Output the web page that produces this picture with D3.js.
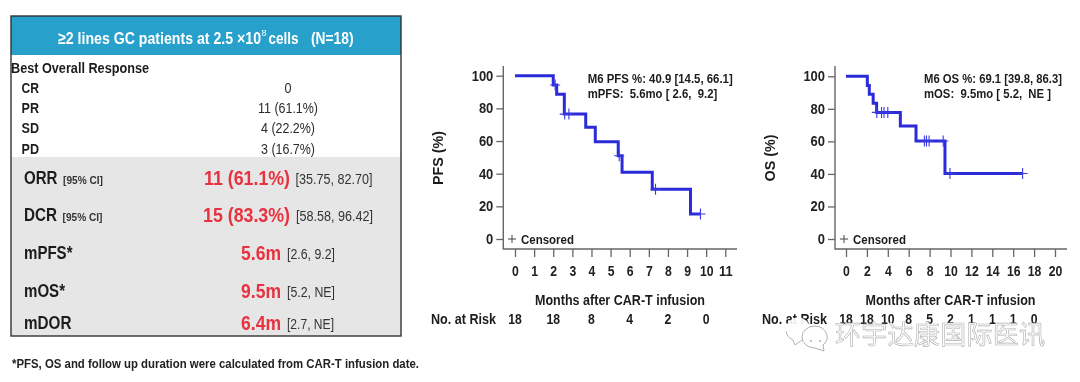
<!DOCTYPE html>
<html>
<head>
<meta charset="utf-8">
<script src="https://cdn.jsdelivr.net/npm/d3@7"></script>
<style>
  html, body { margin: 0; padding: 0; background: #fff; }
  svg { display: block; filter: blur(0.45px); }
  text { font-family: "Liberation Sans", Arial, sans-serif; white-space: pre; }
</style>
</head>
<body>
<svg id="chart"></svg>
<script>
// table contents
const responseLabels = ['CR', 'PR', 'SD', 'PD']
const responseValues = ['0', '11 (61.1%)', '4 (22.2%)', '3 (16.7%)']
const summaryLabels = ['ORR', 'DCR', 'mPFS*', 'mOS*', 'mDOR']
const summaryValues = ['11 (61.1%)', '15 (83.3%)', '5.6m', '9.5m', '6.4m']
const summaryRanges = ['[35.75, 82.70]', '[58.58, 96.42]', '[2.6, 9.2]', '[5.2, NE]', '[2.7, NE]']

// PFS curve
const pfsMonths = [0, 2.0, 2.18, 2.58, 3.7, 4.2, 5.4, 5.6, 7.18, 9.18, 9.7]
const pfsPercent = [100, 94.3, 88.6, 76.5, 68.4, 59.6, 51, 40.9, 30.4, 15.3, 15.3]
const pfsCensored = [2.1, 2.6, 2.82, 5.45, 7.35, 9.7]
const pfsTicks = [0, 1, 2, 3, 4, 5, 6, 7, 8, 9, 10, 11]
const pfsRiskMonths = [0, 2, 4, 6, 8, 10]
const pfsRisk = [18, 18, 8, 4, 2, 0]

// OS curve
const osMonths = [0, 2.04, 2.23, 2.6, 2.93, 5.2, 6.7, 9.47, 16.9]
const osPercent = [100, 94.4, 88.9, 83.4, 77.8, 69.4, 60.2, 40.3, 40.3]
const osCensored = [2.95, 3.4, 3.64, 4.0, 7.5, 7.7, 7.95, 9.3, 9.95, 16.9]
const osTicks = [0, 2, 4, 6, 8, 10, 12, 14, 16, 18, 20]
const osRiskMonths = [0, 2, 4, 6, 8, 10, 12, 14, 16, 18]
const osRisk = [18, 18, 10, 8, 5, 2, 1, 1, 1, 0]

const percentTicks = [0, 20, 40, 60, 80, 100]

const svg = d3.select('#chart').attr('width', 1080).attr('height', 382)

// text with a fixed drawn width, the source is a squeezed slide font
const label = (parent, str, x, y, size, opts = {}) => {
    const t = parent.append('text')
        .attr('x', x)
        .attr('y', y)
        .attr('dy', '0.36em')
        .attr('font-size', size)
        .attr('font-weight', opts.weight || 'bold')
        .attr('fill', opts.fill || '#1c1c1c')
        .attr('text-anchor', opts.anchor || 'start')
        .text(str)
    if (opts.width) t.attr('textLength', opts.width).attr('lengthAdjust', 'spacingAndGlyphs')
    return t
}

const drawTable = () => {
    const g = svg.append('g')
    g.append('rect').attr('x', 11).attr('y', 16).attr('width', 390).attr('height', 320).attr('fill', '#fff')
    g.append('rect').attr('x', 11).attr('y', 16).attr('width', 390).attr('height', 39).attr('fill', '#27a0cc')
    g.append('rect').attr('x', 11).attr('y', 157).attr('width', 390).attr('height', 179).attr('fill', '#e6e6e6')
    g.append('rect').attr('x', 11).attr('y', 16).attr('width', 390).attr('height', 320)
        .attr('fill', 'none').attr('stroke', '#333').attr('stroke-width', 1.4)

    label(g, '≥2 lines GC patients at 2.5 ×10', 58, 37.5, 17, { fill: '#fff', width: 203 })
    label(g, '8', 261.5, 33, 9, { fill: '#fff', weight: 'normal' })
    label(g, 'cells', 268.5, 37.5, 17, { fill: '#fff', width: 30 })
    label(g, '(N=18)', 311, 37.5, 17, { fill: '#fff', width: 42.5 })

    label(g, 'Best Overall Response', 11, 67.5, 14, { width: 138 })

    const rowY = d3.scalePoint().domain(responseLabels).range([87.5, 148.5])
    const valueW = [7, 60, 54, 54]
    responseLabels.forEach((d, i) => {
        label(g, d, 21.5, rowY(d), 14, { width: 17.5 })
        label(g, responseValues[i], 288, rowY(d), 14, { weight: 'normal', anchor: 'middle', fill: '#2b2b2b', width: valueW[i] })
    })

    const summaryY = d3.scaleOrdinal().domain(summaryLabels).range([178, 215, 253, 291, 323])
    const labelW = [33.5, 33, 48.5, 41, 47.5]
    const redX = [204, 203, 241, 241, 241]
    const redW = [86, 87, 40, 40, 40]
    const rangeX = [295.5, 296, 287, 287, 287]
    const rangeW = [77, 77, 48, 48, 47]
    summaryLabels.forEach((d, i) => {
        label(g, d, 24, summaryY(d), 18, { width: labelW[i] })
        label(g, summaryValues[i], redX[i], summaryY(d), 20, { fill: '#e8323f', width: redW[i] })
        label(g, summaryRanges[i], rangeX[i], summaryY(d) + 1, 14, { weight: 'normal', fill: '#333', width: rangeW[i] })
    })
    label(g, '[95% CI]', 63, 180, 10, { width: 40, fill: '#333' })
    label(g, '[95% CI]', 62.5, 217, 10, { width: 40, fill: '#333' })

    label(g, '*PFS, OS and follow up duration were calculated from CAR-T infusion date.', 12, 363, 12.5, { width: 407, fill: '#222' })
}

const drawKm = (cfg, months, percent, censored, ticks, riskMonths, risk) => {
    const x = d3.scaleLinear().domain([0, cfg.maxTick]).range([cfg.x0, cfg.x1])
    const y = d3.scaleLinear().domain([0, 100]).range([239, cfg.yTop])
    const axisColor = '#666'
    const g = svg.append('g')

    const xAxis = d3.axisBottom(x).tickValues(ticks).tickFormat(d3.format('d')).tickSize(8).tickPadding(9)
    const yAxis = d3.axisLeft(y).tickValues(percentTicks).tickSize(7).tickPadding(3)
    const xAxisG = g.append('g').attr('transform', 'translate(0, 249)').call(xAxis)
    const yAxisG = g.append('g').attr('transform', `translate(${cfg.axisX}, 0)`).call(yAxis)
    xAxisG.select('.domain').remove()
    yAxisG.select('.domain').remove()
    xAxisG.selectAll('line').attr('stroke', axisColor).attr('stroke-width', 1.3)
    yAxisG.selectAll('line').attr('stroke', axisColor).attr('stroke-width', 1.3)
    xAxisG.selectAll('text').attr('font-size', 14).attr('font-weight', 'bold').attr('fill', '#222')
        .attr('font-family', '"Liberation Sans"')
        .attr('textLength', d => String(d).length * 6.8)
        .attr('lengthAdjust', 'spacingAndGlyphs')
    yAxisG.selectAll('text').attr('font-size', 14).attr('font-weight', 'bold').attr('fill', '#222')
        .attr('font-family', '"Liberation Sans"')
        .attr('textLength', d => String(d).length * 7.2)
        .attr('lengthAdjust', 'spacingAndGlyphs')

    // axis lines run past the last ticks
    g.append('path')
        .attr('d', `M${cfg.axisX},66V249H${cfg.axisEnd}`)
        .attr('fill', 'none')
        .attr('stroke', axisColor)
        .attr('stroke-width', 1.4)

    const line = d3.line()
        .x((d, i) => x(months[i]))
        .y(d => y(d))
        .curve(d3.curveStepAfter)
    g.append('path')
        .datum(percent)
        .attr('fill', 'none')
        .attr('stroke', '#2b2bd9')
        .attr('stroke-width', 3)
        .attr('d', line)

    // censor marks sit on the step the curve is at that month
    const levelAt = m => percent[Math.max(0, d3.bisectRight(months, m) - 1)]
    g.selectAll('.censor')
        .data(censored)
        .join('path')
        .attr('class', 'censor')
        .attr('d', d => `M${x(d) - 5},${y(levelAt(d))}h10M${x(d)},${y(levelAt(d)) - 5.5}v11`)
        .attr('stroke', '#3a3ae0')
        .attr('stroke-width', 1.1)
        .attr('fill', 'none')

    // legend
    g.append('path')
        .attr('d', `M${cfg.plusX - 4},239h8M${cfg.plusX},235v8`)
        .attr('stroke', '#444').attr('stroke-width', 1).attr('fill', 'none')
    label(g, 'Censored', cfg.plusX + 9, 239, 13, { width: 53 })

    label(g, cfg.noteA, cfg.noteX, 78, 12.5, { width: cfg.noteAW })
    label(g, cfg.noteB, cfg.noteX, 93.5, 12.5, { width: cfg.noteBW })

    label(g, cfg.yTitle, 0, 0, 14, { anchor: 'middle', width: cfg.yTitleW })
        .attr('transform', `translate(${cfg.yTitleX}, 158) rotate(-90)`)
    label(g, 'Months after CAR-T infusion', cfg.titleX, 300, 14, { anchor: 'middle', width: 170 })
    label(g, 'No. at Risk', cfg.riskX, 319, 14, { width: 65 })
    riskMonths.forEach((m, i) => {
        label(g, String(risk[i]), x(m), 319, 14, { anchor: 'middle', width: String(risk[i]).length * 6.8 })
    })
}

const drawWatermark = () => {
    const g = svg.append('g')
    const grey = '#b0b0b0'
    // back bubble: white wipes the text behind it, only its lower edge shows
    g.append('ellipse').attr('cx', 798).attr('cy', 329).attr('rx', 12).attr('ry', 11.5)
        .attr('fill', '#fff').attr('fill-opacity', 0.9)
    g.append('path').attr('d', 'M786,331A12,11.5 0 0 0 793,340L795,345L802,340')
        .attr('fill', 'none').attr('stroke', grey).attr('stroke-width', 1)
    // front bubble
    g.append('path').attr('d', 'M815,326A13,11 0 1 0 815,348L824,351L823,345A13,11 0 0 0 815,326Z')
        .attr('fill', '#fff').attr('stroke', grey).attr('stroke-width', 1)
    g.selectAll('.eye')
        .data([[811, 341], [820, 341]])
        .join('circle')
        .attr('class', 'eye')
        .attr('cx', d => d[0]).attr('cy', d => d[1]).attr('r', 1)
        .attr('fill', grey)
    g.append('text')
        .attr('x', 835)
        .attr('y', 335)
        .attr('dy', '0.36em')
        .attr('font-size', 26)
        .attr('textLength', 210)
        .style('font-family', '"Noto Sans CJK SC"')
        .attr('fill', '#fff')
        .attr('stroke', grey)
        .attr('stroke-width', 0.6)
        .text('环宇达康国际医讯')
}

drawTable()
drawKm({
    maxTick: 11, x0: 515, x1: 725.3, yTop: 75.7, axisX: 503.3, axisEnd: 737,
    plusX: 512,
    noteA: 'M6 PFS %: 40.9 [14.5, 66.1]', noteB: 'mPFS:  5.6mo [ 2.6,  9.2]',
    noteX: 587.7, noteAW: 145, noteBW: 129.5,
    yTitle: 'PFS (%)', yTitleX: 438, yTitleW: 54, titleX: 620, riskX: 431
}, pfsMonths, pfsPercent, pfsCensored, pfsTicks, pfsRiskMonths, pfsRisk)
drawKm({
    maxTick: 20, x0: 846, x1: 1055, yTop: 76.3, axisX: 835, axisEnd: 1067,
    plusX: 844,
    noteA: 'M6 OS %: 69.1 [39.8, 86.3]', noteB: 'mOS:  9.5mo [ 5.2,  NE ]',
    noteX: 924, noteAW: 138, noteBW: 127,
    yTitle: 'OS (%)', yTitleX: 770, yTitleW: 47, titleX: 950.5, riskX: 762
}, osMonths, osPercent, osCensored, osTicks, osRiskMonths, osRisk)
drawWatermark()
</script>
</body>
</html>
